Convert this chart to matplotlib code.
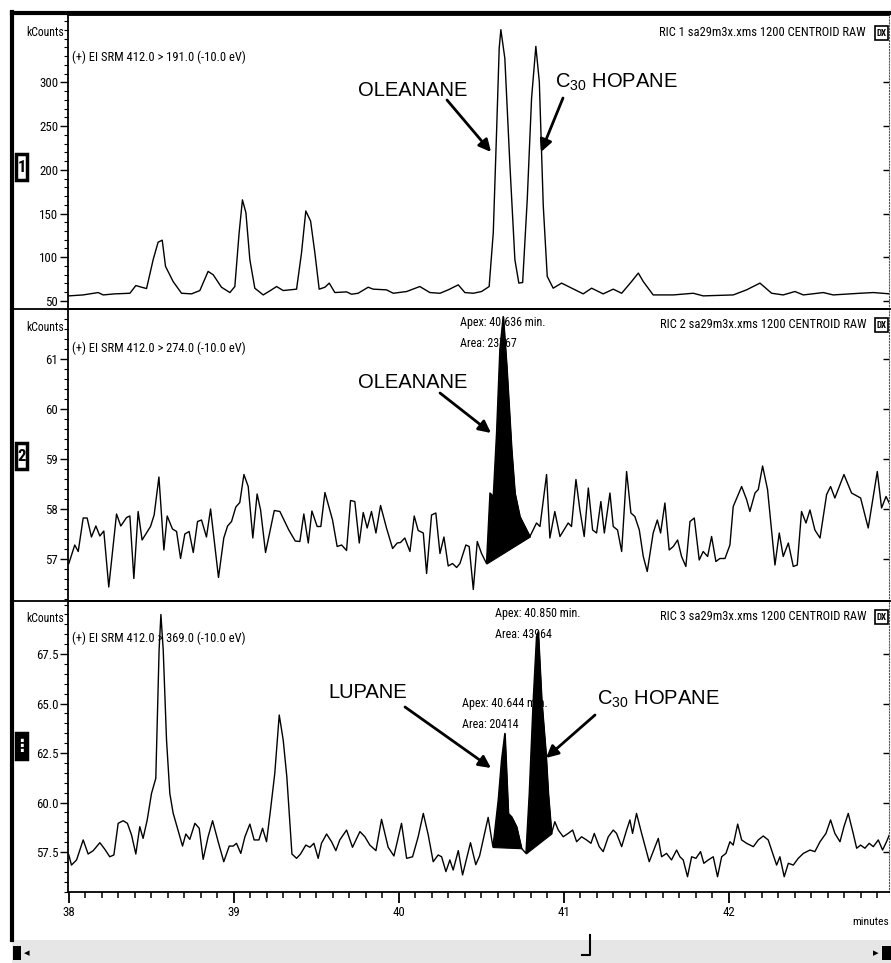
import numpy as np
import matplotlib.pyplot as plt
from matplotlib import font_manager
from matplotlib.ticker import FixedLocator, MultipleLocator, FormatStrFormatter
from matplotlib.lines import Line2D
from matplotlib.patches import Rectangle, FancyArrowPatch

# pick a narrow face for the instrument software texts, if one is installed
fonts = font_manager.fontManager.ttflist
NARROW = {'family': 'DejaVu Sans', 'stretch': 'normal'}
for want in ['Liberation Sans Narrow', 'Arial Narrow', 'DejaVu Sans Condensed',
             'Roboto Condensed', 'Noto Sans Condensed', 'Open Sans Condensed']:
    if any(f.name == want for f in fonts):
        NARROW = {'family': want, 'stretch': 'normal'}
        break
else:
    cond = [f for f in fonts if f.stretch in ('condensed', 'semi-condensed', 'extra-condensed')
            and f.style == 'normal' and f.weight in (400, 'normal', 'regular')]
    if cond:
        NARROW = {'family': cond[0].name, 'stretch': cond[0].stretch}

plt.rcParams['font.family'] = [NARROW['family'], 'DejaVu Sans']
plt.rcParams['font.stretch'] = NARROW['stretch']
plt.rcParams['mathtext.fontset'] = 'custom'
plt.rcParams['mathtext.rm'] = 'Liberation Sans'
WIDE = ['Liberation Sans', 'DejaVu Sans']

# ---- RIC 1 : SRM 412 > 191 (kCounts) ----
t1 = [38.000, 38.087, 38.178, 38.208, 38.279, 38.370, 38.406, 38.441, 38.471, 38.511,
      38.541, 38.566, 38.586, 38.632, 38.683, 38.744, 38.794, 38.844, 38.875, 38.925,
      38.976, 39.006, 39.032, 39.052, 39.073, 39.097, 39.127, 39.178, 39.228, 39.259,
      39.299, 39.380, 39.410, 39.436, 39.465, 39.491, 39.517, 39.552, 39.578, 39.612,
      39.683, 39.713, 39.753, 39.814, 39.844, 39.925, 39.966, 40.047, 40.127, 40.188,
      40.249, 40.299, 40.360, 40.400, 40.451, 40.501, 40.547, 40.572, 40.592, 40.608,
      40.618, 40.642, 40.673, 40.703, 40.727, 40.750, 40.778, 40.804, 40.830, 40.851,
      40.875, 40.899, 40.935, 40.986, 41.036, 41.117, 41.168, 41.238, 41.299, 41.350,
      41.410, 41.451, 41.481, 41.541, 41.663, 41.784, 41.844, 42.026, 42.107, 42.188,
      42.259, 42.329, 42.400, 42.451, 42.572, 42.632, 42.794, 42.875, 42.976]
c1 = [55.8, 56.9, 59.6, 56.9, 58.1, 58.8, 67.6, 65.7, 64.2, 97.2,
      117.2, 119.5, 89.5, 72.2, 58.8, 58.1, 61.9, 83.8, 79.9, 65.7,
      59.6, 66.5, 128.0, 165.6, 151.0, 97.2, 64.6, 56.9, 62.7, 66.5,
      61.9, 63.5, 104.9, 152.9, 141.4, 104.9, 63.5, 65.7, 70.4, 59.6,
      60.4, 57.7, 58.8, 65.7, 63.5, 62.7, 58.8, 60.8, 66.5, 59.6,
      58.8, 62.7, 68.4, 59.6, 58.8, 60.8, 66.5, 128.0, 243.2, 339.2,
      360.2, 327.6, 204.7, 97.2, 70.4, 71.1, 166.4, 281.6, 341.1, 300.8,
      158.7, 78.1, 64.6, 70.4, 65.7, 58.1, 64.6, 58.1, 63.5, 58.8,
      72.2, 81.9, 72.2, 56.9, 56.9, 58.8, 55.8, 56.9, 62.7, 70.4,
      58.8, 56.9, 60.8, 56.9, 59.6, 56.9, 58.8, 59.6, 58.1]

# ---- RIC 2 : SRM 412 > 274 ----
t2 = [38.000, 38.036, 38.057, 38.087, 38.111, 38.137, 38.164, 38.188, 38.212, 38.242,
      38.289, 38.315, 38.350, 38.370, 38.394, 38.420, 38.444, 38.495, 38.517, 38.546,
      38.576, 38.596, 38.628, 38.653, 38.677, 38.703, 38.729, 38.754, 38.780, 38.804,
      38.834, 38.859, 38.907, 38.939, 38.962, 38.986, 39.012, 39.036, 39.061, 39.087,
      39.115, 39.141, 39.162, 39.192, 39.245, 39.279, 39.333, 39.372, 39.400, 39.424,
      39.451, 39.473, 39.505, 39.527, 39.552, 39.598, 39.626, 39.653, 39.683, 39.707,
      39.733, 39.760, 39.784, 39.808, 39.834, 39.861, 39.889, 39.925, 39.962, 39.990,
      40.010, 40.036, 40.067, 40.093, 40.117, 40.148, 40.168, 40.198, 40.224, 40.249,
      40.273, 40.299, 40.325, 40.350, 40.370, 40.406, 40.426, 40.451, 40.475, 40.501,
      40.531, 40.552, 40.572, 40.592, 40.612, 40.632, 40.653, 40.683, 40.703, 40.733,
      40.794, 40.834, 40.855, 40.895, 40.915, 40.945, 40.976, 41.026, 41.046, 41.073,
      41.097, 41.123, 41.148, 41.174, 41.198, 41.224, 41.245, 41.279, 41.299, 41.325,
      41.350, 41.380, 41.406, 41.430, 41.457, 41.481, 41.505, 41.541, 41.566, 41.586,
      41.612, 41.638, 41.663, 41.689, 41.713, 41.739, 41.764, 41.790, 41.820, 41.844,
      41.871, 41.895, 41.921, 41.945, 41.976, 42.006, 42.026, 42.077, 42.107, 42.127,
      42.158, 42.178, 42.204, 42.234, 42.279, 42.305, 42.329, 42.360, 42.390, 42.414,
      42.440, 42.467, 42.491, 42.521, 42.552, 42.592, 42.616, 42.642, 42.697, 42.743,
      42.798, 42.844, 42.899, 42.925, 42.952, 42.976]
c2 = [56.91, 57.28, 57.15, 57.82, 57.82, 57.44, 57.66, 57.46, 57.56, 56.44,
      57.90, 57.66, 57.83, 57.86, 56.61, 57.95, 57.38, 57.65, 57.88, 58.64,
      57.18, 57.86, 57.60, 57.55, 57.01, 57.50, 57.55, 57.13, 57.75, 57.78,
      57.44, 58.00, 56.63, 57.42, 57.66, 57.75, 58.04, 58.13, 58.69, 58.45,
      57.42, 58.30, 57.98, 57.13, 57.97, 57.95, 57.58, 57.36, 57.35, 57.90,
      57.32, 57.96, 57.65, 57.65, 58.33, 57.78, 57.25, 57.28, 57.17, 58.17,
      58.15, 57.32, 57.93, 57.62, 57.95, 57.52, 58.07, 57.62, 57.21, 57.32,
      57.33, 57.42, 57.15, 57.86, 57.57, 57.52, 56.71, 57.88, 57.92, 57.11,
      57.44, 56.86, 56.91, 56.83, 56.91, 57.28, 57.25, 56.39, 57.35, 57.11,
      56.91, 58.32, 58.25, 59.53, 61.20, 61.85, 60.87, 59.19, 58.32, 57.85,
      57.45, 57.72, 57.65, 58.69, 57.42, 57.95, 57.45, 57.72, 57.65, 58.59,
      57.98, 57.45, 58.42, 57.58, 57.52, 58.15, 57.52, 58.32, 57.65, 57.58,
      57.15, 58.75, 57.92, 57.85, 57.58, 57.05, 56.75, 57.52, 57.78, 57.52,
      58.12, 57.18, 57.25, 57.38, 57.05, 56.85, 57.75, 57.82, 56.98, 57.15,
      57.05, 57.45, 56.95, 57.01, 57.01, 57.28, 58.05, 58.45, 58.19, 57.95,
      58.32, 58.39, 58.86, 58.39, 56.88, 57.52, 57.05, 57.32, 56.85, 56.88,
      57.95, 57.72, 57.98, 57.58, 57.42, 58.29, 58.45, 58.22, 58.69, 58.32,
      58.22, 57.62, 58.75, 58.02, 58.25, 58.09]

# ---- RIC 3 : SRM 412 > 369 ----
t3 = [38.000, 38.016, 38.047, 38.087, 38.117, 38.148, 38.188, 38.218, 38.248, 38.273,
      38.299, 38.329, 38.355, 38.380, 38.406, 38.430, 38.450, 38.475, 38.501, 38.527,
      38.547, 38.558, 38.572, 38.592, 38.612, 38.632, 38.653, 38.689, 38.709, 38.733,
      38.764, 38.790, 38.814, 38.844, 38.871, 38.905, 38.939, 38.972, 38.996, 39.016,
      39.042, 39.067, 39.097, 39.123, 39.152, 39.174, 39.198, 39.222, 39.248, 39.275,
      39.299, 39.321, 39.352, 39.380, 39.404, 39.436, 39.461, 39.485, 39.511, 39.531,
      39.562, 39.592, 39.618, 39.642, 39.683, 39.719, 39.764, 39.794, 39.824, 39.861,
      39.895, 39.935, 39.970, 40.016, 40.047, 40.083, 40.117, 40.148, 40.178, 40.208,
      40.238, 40.259, 40.285, 40.309, 40.329, 40.360, 40.386, 40.434, 40.466, 40.489,
      40.541, 40.570, 40.602, 40.622, 40.642, 40.663, 40.683, 40.713, 40.743, 40.770,
      40.790, 40.814, 40.834, 40.844, 40.865, 40.891, 40.905, 40.925, 40.945, 40.966,
      40.996, 41.026, 41.053, 41.077, 41.107, 41.137, 41.164, 41.184, 41.214, 41.238,
      41.269, 41.299, 41.319, 41.350, 41.380, 41.400, 41.416, 41.440, 41.471, 41.517,
      41.541, 41.572, 41.592, 41.622, 41.652, 41.683, 41.703, 41.723, 41.749, 41.774,
      41.800, 41.828, 41.848, 41.875, 41.905, 41.931, 41.956, 41.982, 42.006, 42.026,
      42.053, 42.077, 42.107, 42.148, 42.178, 42.208, 42.238, 42.265, 42.289, 42.309,
      42.335, 42.360, 42.390, 42.420, 42.451, 42.491, 42.521, 42.552, 42.588, 42.616,
      42.642, 42.673, 42.697, 42.723, 42.753, 42.774, 42.798, 42.824, 42.850, 42.875,
      42.905, 42.931, 42.955, 42.976]
c3 = [57.35, 56.84, 57.10, 58.11, 57.40, 57.57, 57.97, 57.64, 57.26, 57.35,
      58.95, 59.08, 58.95, 58.36, 57.40, 58.78, 58.19, 59.12, 60.46, 61.22,
      67.70, 69.50, 67.70, 63.16, 60.46, 59.47, 58.86, 57.80, 58.41, 58.14,
      58.95, 58.70, 57.13, 58.27, 59.08, 58.02, 57.01, 57.80, 57.80, 57.94,
      57.43, 58.27, 58.91, 58.11, 58.11, 58.70, 58.02, 59.62, 61.47, 64.42,
      63.16, 61.30, 57.40, 57.18, 57.40, 57.85, 57.74, 57.94, 57.18, 57.94,
      58.41, 58.02, 57.57, 58.11, 58.61, 57.74, 58.53, 58.27, 57.85, 57.57,
      59.15, 57.74, 57.30, 58.95, 57.18, 57.26, 58.27, 59.45, 58.36, 57.01,
      57.35, 57.26, 56.51, 57.10, 56.59, 57.57, 56.34, 57.97, 56.86, 57.30,
      59.25, 57.75, 60.13, 62.15, 63.49, 59.45, 59.28, 58.78, 57.69, 57.43,
      60.46, 65.18, 68.37, 68.63, 65.18, 62.48, 60.46, 58.44, 59.03, 58.61,
      58.27, 58.44, 58.61, 58.02, 58.27, 58.11, 57.94, 58.44, 57.77, 57.52,
      58.27, 58.61, 58.44, 57.77, 58.61, 59.12, 58.44, 59.45, 58.44, 57.01,
      57.52, 58.19, 57.26, 57.43, 57.10, 57.60, 57.26, 57.10, 56.25, 57.26,
      57.18, 57.52, 56.93, 57.10, 57.26, 56.25, 57.26, 57.43, 58.02, 57.85,
      58.91, 58.11, 57.94, 57.77, 58.11, 58.31, 58.11, 57.43, 56.84, 57.26,
      56.25, 56.93, 56.84, 57.18, 57.43, 57.60, 57.52, 58.02, 58.44, 59.12,
      58.44, 58.02, 58.78, 59.45, 58.44, 57.69, 57.85, 57.69, 57.94, 57.77,
      58.11, 57.60, 58.02, 58.44]

# integrated peaks (start, end) in minutes
peaks2 = [(40.531, 40.794)]
peaks3 = [(40.570, 40.743), (40.770, 40.925)]

# labelled y ticks of each trace
yticks1 = [50, 100, 150, 200, 250, 300]
yticks2 = [57, 58, 59, 60, 61]
yticks3 = [57.5, 60.0, 62.5, 65.0, 67.5]
xticks = [38, 39, 40, 41, 42]

W_PX, H_PX = 891, 963
fig = plt.figure(figsize=(W_PX / 100, H_PX / 100), dpi=100)
renderer = fig.canvas.get_renderer()


def fy(y):
    # picture rows are counted from the top
    return H_PX - y


def fit(txt, width):
    # scale a text so it is as wide as in the scan
    w = txt.get_window_extent(renderer).width
    txt.set_fontsize(txt.get_fontsize() * width / w)
    return txt


probe = fit(fig.text(0, 0, '300', fontsize=10), 19)
TICK_SIZE = probe.get_fontsize()
probe.remove()

L, W = 68 / W_PX, 821 / W_PX
ax1 = fig.add_axes([L, 1 - 309 / H_PX, W, 294 / H_PX])
ax2 = fig.add_axes([L, 1 - 601 / H_PX, W, 292 / H_PX])
ax3 = fig.add_axes([L, 1 - 892 / H_PX, W, 291 / H_PX])

setup = [
    (ax1, t1, c1, (40.8, 377), yticks1, 10, '%d', []),
    (ax2, t2, c2, (56.16, 62.0), yticks2, 0.2, '%d', peaks2),
    (ax3, t3, c3, (55.48, 70.18), yticks3, 0.5, '%.1f', peaks3),
]
for ax, t, c, ylim, yt, minor, fmt, peaks in setup:
    t = np.array(t)
    c = np.array(c)
    ax.plot(t, c, color='black', lw=1.0, zorder=3)
    for a, b in peaks:
        m = (t >= a - 1e-6) & (t <= b + 1e-6)
        base = np.interp(t[m], [t[m][0], t[m][-1]], [c[m][0], c[m][-1]])
        ax.fill_between(t[m], base, c[m], color='black', lw=0.8, zorder=2)
    ax.set_xlim(37.995, 42.97)
    ax.set_ylim(*ylim)
    ax.yaxis.set_major_locator(FixedLocator(yt))
    ax.yaxis.set_minor_locator(MultipleLocator(minor))
    ax.yaxis.set_major_formatter(FormatStrFormatter(fmt))
    ax.tick_params(axis='y', which='major', direction='out', length=6, width=1,
                   labelsize=TICK_SIZE, pad=1, right=True, labelright=False)
    ax.tick_params(axis='y', which='minor', direction='out', length=3, width=0.8)
    for tk in ax.yaxis.get_major_ticks():
        tk.tick2line.set_marker(0)
        tk.tick2line.set_markersize(4)
    for side in ['left', 'top', 'bottom']:
        ax.spines[side].set_linewidth(1.3)
    ax.spines['right'].set_linestyle(':')
    ax.spines['right'].set_color('#555555')

for ax in (ax1, ax2):
    ax.tick_params(axis='x', which='both', bottom=False, labelbottom=False)

ax3.xaxis.set_major_locator(FixedLocator(xticks))
ax3.xaxis.set_minor_locator(MultipleLocator(0.1))
ax3.xaxis.set_major_formatter(FormatStrFormatter('%d'))
ax3.tick_params(axis='x', which='major', direction='out', length=8, width=1.3,
                labelsize=TICK_SIZE, pad=2)
ax3.tick_params(axis='x', which='minor', direction='out', length=4, width=1.1)

# ---- instrument header texts ----
headers = ['(+) EI SRM 412.0 > 191.0 (-10.0 eV)',
           '(+) EI SRM 412.0 > 274.0 (-10.0 eV)',
           '(+) EI SRM 412.0 > 369.0 (-10.0 eV)']
rics = ['RIC 1 sa29m3x.xms 1200 CENTROID RAW',
        'RIC 2 sa29m3x.xms 1200 CENTROID RAW',
        'RIC 3 sa29m3x.xms 1200 CENTROID RAW']
header_y = [57, 348, 638]
ric_y = [33, 325, 617]
kc_y = [33, 327, 618]
box_y = [154, 443, 733]
box_txt = ['1', '2', '\u22ee']
for i in range(3):
    fit(fig.text(72 / W_PX, fy(header_y[i]) / H_PX, headers[i], fontsize=10,
                 va='center', ha='left'), 172)
    fit(fig.text(866 / W_PX, fy(ric_y[i]) / H_PX, rics[i], fontsize=10,
                 va='center', ha='right'), 206)
    fit(fig.text(64 / W_PX, fy(kc_y[i]) / H_PX, 'kCounts', fontsize=10,
                 va='center', ha='right'), 38)
    fig.patches.append(Rectangle((875, fy(ric_y[i]) - 7), 13, 14, lw=1.2,
                                 edgecolor='black', facecolor='white',
                                 transform=None, figure=fig))
    fig.text(881.5 / W_PX, fy(ric_y[i]) / H_PX, 'DX', fontsize=6.5,
             va='center', ha='center', fontweight='bold')
    fc, tc = ('black', 'white') if i == 2 else ('white', 'black')
    fig.patches.append(Rectangle((16, fy(box_y[i] + 26)), 11, 26, lw=2.5,
                                 edgecolor='black', facecolor=fc,
                                 transform=None, figure=fig))
    fig.text(21.5 / W_PX, fy(box_y[i] + 13) / H_PX, box_txt[i], fontsize=12,
             va='center', ha='center', color=tc, fontweight='bold')

# ---- peak apex / area labels (drawn below the trace) ----
apex = [(ax2, 460, 322, 'Apex: 40.636 min.', 85), (ax2, 460, 343, 'Area: 23767', 56),
        (ax3, 495, 613, 'Apex: 40.850 min.', 85), (ax3, 495, 634, 'Area: 43964', 56),
        (ax3, 462, 703, 'Apex: 40.644 min.', 85), (ax3, 462, 724, 'Area: 20414', 56)]
for ax, x, y, s, w in apex:
    fit(ax.annotate(s, xy=(x, fy(y)), xycoords='figure pixels', fontsize=10,
                    va='center', ha='left', zorder=1), w)

# ---- compound labels with arrows ----
labels = [
    ('OLEANANE', 358, 90, 447, 100, 491, 152),
    ('C$_{\\mathrm{30}}$ HOPANE', 555, 82, 563, 98, 541, 152),
    ('OLEANANE', 358, 382, 440, 393, 491, 433),
    ('LUPANE', 328, 692, 405, 707, 491, 768),
    ('C$_{\\mathrm{30}}$ HOPANE', 597, 699, 595, 715, 546, 758),
]
for s, tx, ty, x0, y0, x1, y1 in labels:
    fig.text(tx / W_PX, fy(ty) / H_PX, s, fontsize=14.5, family=WIDE,
             stretch='normal', va='center', ha='left')
    fig.add_artist(FancyArrowPatch((x0, fy(y0)), (x1, fy(y1)), transform=None,
                                   arrowstyle='-|>', color='black', lw=2,
                                   mutation_scale=18, shrinkA=0, shrinkB=0))

fit(fig.text(889 / W_PX, fy(922) / H_PX, 'minutes', fontsize=10, va='center',
             ha='right'), 36)

# ---- window frame and scroll bar ----
frame = [([12, 12], [fy(12), fy(940)], 3),
         ([12, 891], [fy(13), fy(13)], 3),
         ([12, 891], [fy(309), fy(309)], 1.3),
         ([12, 891], [fy(601), fy(601)], 1.3)]
for xs, ys, lw in frame:
    fig.add_artist(Line2D(xs, ys, transform=None, color='black', lw=lw))
fig.patches.append(Rectangle((12, 0), 879, fy(940), facecolor='#e6e6e6',
                             edgecolor='none', transform=None, figure=fig))
fig.patches.append(Rectangle((13, fy(960)), 8, 14, facecolor='black',
                             transform=None, figure=fig))
fig.patches.append(Rectangle((882, fy(960)), 9, 14, facecolor='black',
                             transform=None, figure=fig))
fig.text(27 / W_PX, fy(953) / H_PX, '\u25c2', fontsize=8, va='center',
         ha='center', family=['DejaVu Sans'], stretch='normal')
fig.text(876 / W_PX, fy(953) / H_PX, '\u25b8', fontsize=8, va='center',
         ha='center', family=['DejaVu Sans'], stretch='normal')
fig.add_artist(Line2D([590, 590, 582], [fy(935), fy(955), fy(955)],
                      transform=None, color='black', lw=1.5))

fig.savefig('out.png', dpi=100)
